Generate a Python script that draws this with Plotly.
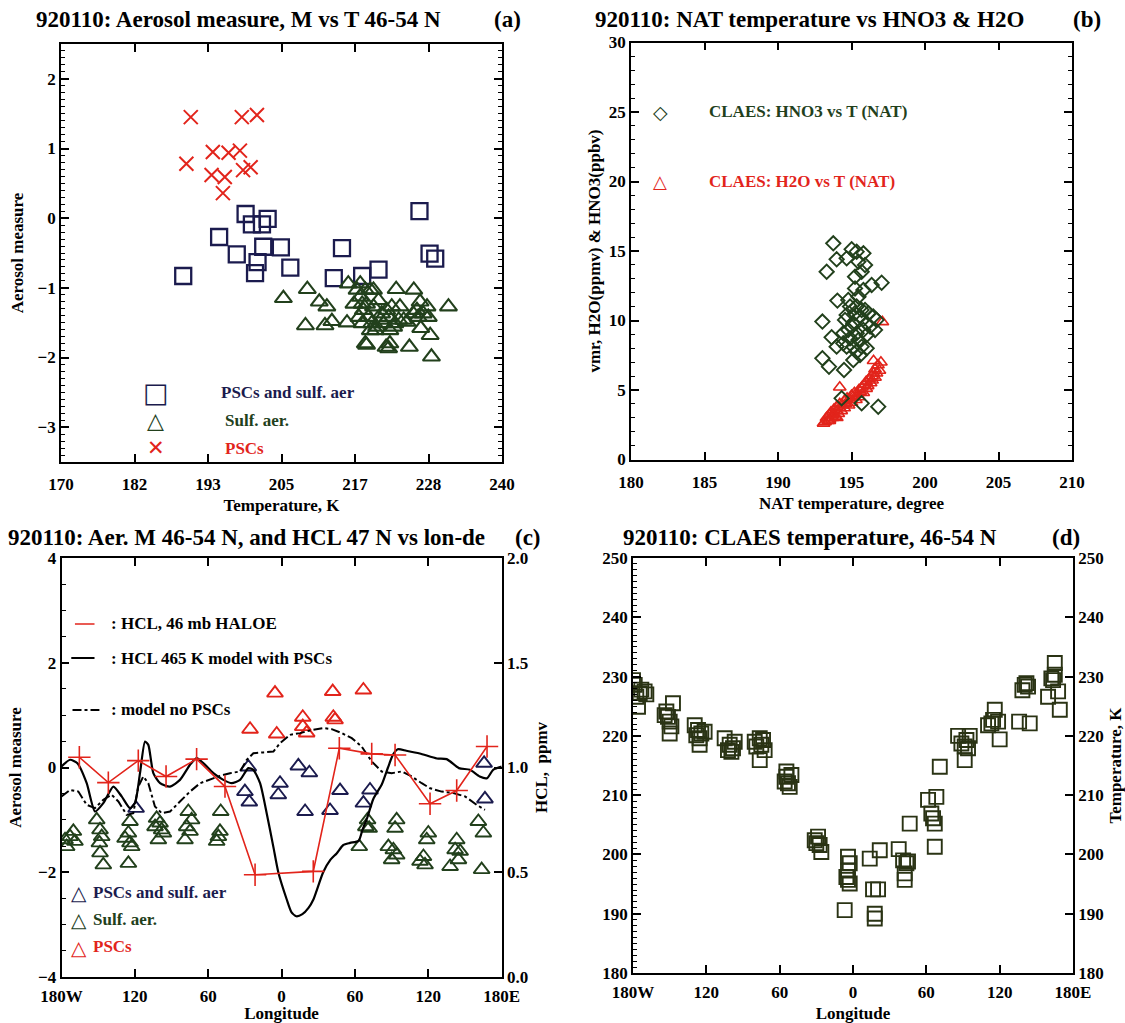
import numpy as np
import plotly.graph_objects as go

W, H = 1125, 1023
FONT = "Liberation Serif"
RED = "#e2241b"
NAVY = "#1b1b4e"
GREEN = "#22401c"
OLIVE = "#2a3314"

# ---------------- Panel (a): aerosol measure vs temperature ----------------
psc_T = [190.6, 198.7, 201.1, 194.1, 196.6, 198.4, 189.9, 193.9, 196.0, 198.9, 200.1, 195.7]
psc_M = [1.45, 1.45, 1.48, 0.95, 0.94, 0.97, 0.78, 0.62, 0.59, 0.69, 0.73, 0.36]

mix_T = [189.4, 195.1, 197.9, 199.3, 200.3, 201.9, 202.8, 202.1, 201.2, 200.8,
         204.9, 206.4, 214.6, 213.3, 217.8, 220.4, 226.9, 228.5, 229.4]
mix_M = [-0.83, -0.27, -0.52, 0.06, -0.09, -0.09, -0.01, -0.41, -0.63, -0.79,
         -0.42, -0.71, -0.43, -0.86, -0.83, -0.74, 0.10, -0.51, -0.58]

sulf_T = [205.3, 209.1, 208.8, 211.0, 212.2, 211.9, 213.0, 215.4, 215.6, 217.0,
          217.5, 217.8, 218.0, 218.3, 218.5, 218.8, 219.1, 219.3, 219.6, 219.9,
          220.4, 220.7, 220.9, 221.2, 221.7, 222.0, 222.2, 222.5, 223.0, 223.2,
          223.8, 224.4, 224.9, 225.3, 226.0, 226.5, 226.7, 227.0, 227.1, 227.5,
          228.1, 228.3, 228.6, 228.8, 231.5, 218.3, 218.5, 221.6, 222.0, 222.2,
          216.5, 217.3, 217.8, 219.1, 220.1, 222.8, 223.6, 225.9, 219.6, 217.5]
sulf_M = [-1.15, -1.02, -1.54, -1.20, -1.27, -1.54, -1.48, -1.50, -0.94, -1.03,
          -1.13, -1.23, -1.32, -1.03, -1.23, -1.42, -1.03, -1.51, -1.27, -1.61,
          -1.18, -1.46, -1.37, -1.51, -1.32, -1.42, -1.61, -1.27, -1.51, -1.02,
          -1.27, -1.46, -1.49, -1.85, -1.03, -1.32, -1.42, -1.20, -1.58, -1.37,
          -1.27, -1.42, -1.68, -1.99, -1.27, -1.80, -1.82, -1.85, -1.87, -1.80,
          -1.23, -1.42, -1.51, -1.61, -1.56, -1.56, -1.46, -1.37, -1.03, -0.94]

a_tickvals = list(np.linspace(170, 240, 7))
a_ticktext = ["170", "182", "193", "205", "217", "228", "240"]

# ---------------- Panel (b): NAT temperature vs HNO3 & H2O ----------------
hno3_T = [193.76, 193.31, 193.99, 194.67, 195.01, 195.35, 195.81, 195.47, 195.92, 195.69,
          195.24, 196.37, 197.05, 194.04, 195.24, 195.81, 194.90, 195.35, 195.92, 194.67,
          195.58, 196.48, 195.12, 196.03, 196.71, 193.02, 196.60, 193.65, 194.44, 194.90,
          195.35, 196.03, 193.99, 194.67, 195.35, 196.03, 193.02, 193.47, 194.49, 195.58,
          195.12, 194.33, 195.69, 196.82, 194.56, 195.01, 195.24, 195.69, 194.78, 195.47,
          195.81, 194.44, 195.12, 195.69, 196.26, 194.78, 195.47, 196.15]
hno3_v = [15.55, 13.51, 14.40, 14.47, 15.12, 14.95, 14.83, 14.23, 13.99, 13.51,
          13.15, 12.55, 12.72, 11.43, 12.31, 12.19, 11.00, 11.00, 10.76, 10.40,
          10.28, 10.28, 9.80, 9.80, 10.04, 9.92, 9.32, 8.79, 9.08, 8.72,
          9.08, 8.96, 8.12, 8.12, 7.76, 8.00, 7.28, 6.68, 6.44, 7.52,
          7.16, 4.40, 4.04, 3.80, 10.04, 9.56, 10.52, 10.76, 9.32, 8.60,
          9.32, 8.36, 8.12, 8.12, 9.56, 11.47, 11.71, 10.52]

h2o_T = [193.1, 193.2, 193.3, 193.4, 193.5, 193.5, 193.6, 193.7, 193.8, 193.8,
         193.9, 194.0, 194.0, 194.1, 194.2, 194.2, 194.3, 194.4, 194.5, 194.5,
         194.6, 194.7, 194.8, 194.9, 195.0, 195.0, 195.1, 195.2, 195.3, 195.4,
         195.5, 195.5, 195.6, 195.7, 195.8, 195.9, 196.0, 196.0, 196.1, 196.2,
         196.3, 196.4, 196.4, 196.5, 196.6, 196.6, 196.7, 196.8, 196.9, 197.0,
         196.5, 197.1, 194.2, 193.5, 193.7, 194.0]
h2o_v = [2.6, 2.7, 3.0, 2.8, 3.2, 2.9, 3.4, 3.0, 3.3, 3.6,
         3.1, 3.5, 3.8, 3.3, 3.7, 4.0, 3.5, 3.9, 4.2, 3.7,
         4.0, 4.4, 3.9, 4.3, 4.6, 4.1, 4.5, 4.8, 4.3, 4.7,
         5.0, 4.5, 4.9, 5.2, 4.8, 5.4, 5.1, 5.6, 5.3, 5.8,
         5.5, 6.0, 5.7, 6.2, 5.9, 6.5, 6.2, 6.8, 6.4, 7.0,
         7.1, 9.9, 5.2, 2.8, 3.2, 3.0]

# ---------------- Panel (c): aerosol measure and HCl vs longitude ----------------
hcl_lon = [-165.4, -141.7, -117.2, -94.5, -69.5, -46.3, -21.7, 25.9, 47.2, 73.7, 92.8, 121.4, 143.2, 168.0]
hcl_ppmv = [1.049, 0.928, 1.033, 0.957, 1.040, 0.909, 0.488, 0.504, 1.092, 1.065, 1.060, 0.827, 0.890, 1.100]

mod_lon = [-180, -173, -167, -159.4, -152.6, -145.8, -137.6, -130.8, -124, -119.9,
           -115.8, -111.7, -109, -104.9, -99.4, -91.2, -83.1, -74.9, -69.5, -64,
           -55.8, -47.6, -40.8, -34, -27.2, -23.1, -17.6, -12.2, -6.7, -2.7,
           4.2, 8, 12, 17, 22, 26, 34, 40, 45, 50.5,
           56, 63, 66, 70, 75, 82, 87, 91, 95, 102,
           113, 127, 135, 145, 154, 162, 168, 173, 180]
mod_ppmv = [1.005, 1.037, 1.02, 0.925, 0.79, 0.83, 0.909, 0.862, 0.806, 0.83,
            0.973, 1.124, 1.108, 0.973, 0.925, 0.909, 0.941, 1.013, 1.045, 1.021,
            0.973, 0.941, 0.925, 0.941, 0.997, 0.989, 0.925, 0.782, 0.62, 0.50,
            0.37, 0.31, 0.29, 0.30, 0.33, 0.37, 0.50, 0.56, 0.59, 0.63,
            0.64, 0.65, 0.70, 0.76, 0.85, 0.92, 1.00, 1.06, 1.087, 1.08,
            1.067, 1.043, 1.040, 0.997, 0.989, 0.957, 0.949, 0.989, 1.005]

nopsc_lon = [-180, -173, -166.2, -159.4, -152.6, -145.8, -139.0, -133.5, -126.7, -121.3,
             -117.2, -113.1, -109.0, -103.6, -98.1, -91.2, -83.1, -74.9, -66.7, -58.5,
             -50.4, -42.2, -34.0, -28.5, -23.1, -14.9, -6.7, -1.3, 6.9, 15.1,
             23.3, 34.2, 41.0, 49.2, 57.4, 65.5, 73.7, 81.8, 90.0, 98.2,
             106.4, 114.6, 121.4, 130.9, 140.4, 150.0, 159.5, 166.3]
nopsc_ppmv = [0.862, 0.893, 0.885, 0.822, 0.806, 0.846, 0.870, 0.838, 0.774, 0.782,
              0.909, 0.957, 0.925, 0.814, 0.782, 0.790, 0.838, 0.885, 0.925, 0.944,
              0.960, 0.973, 0.981, 1.037, 1.068, 1.072, 1.076, 1.116, 1.156, 1.164,
              1.177, 1.188, 1.183, 1.164, 1.140, 1.100, 1.029, 0.981, 0.973, 0.981,
              0.957, 0.925, 0.901, 0.885, 0.878, 0.862, 0.822, 0.798]

c_psc_lon = [-25.8, -4.0, -5.4, 17.3, 17.3, 20.5, 42.3, 41.8, 43.7, 66.9]
c_psc_M = [0.73, 0.64, 1.42, 0.96, 0.78, 0.66, 0.96, 1.45, 0.91, 1.48]

c_mix_lon = [-27.2, -30.0, -26.4, -1.3, -2.7, 13.7, 22.7, 19.2, 39.6, 47.8, 72.3, 66.9, 165.6, 166.3, -119.0]
c_mix_M = [0.01, -0.46, -0.66, -0.30, -0.52, 0.03, -0.10, -0.84, -0.82, -0.44, -0.43, -0.68, 0.08, -0.60, -0.78]

c_sulf_lon = [-177.1, -173.0, -170.3, -175.8, -169.0,
              -151.2, -148.5, -147.1, -149.0, -148.5, -145.8,
              -124.0, -125.3, -128.0, -124.0, -122.6, -125.3,
              -102.2, -99.4, -103.5, -98.1, -100.8, -96.7,
              -76.3, -73.6, -77.6, -79.0, -74.9,
              -49.8, -50.4, -53.1, -51.7,
              63.5, 70.3, 71.6, 68.9,
              94.1, 92.8, 87.3, 91.4, 94.1, 90.0,
              120.0, 118.7, 116.0, 113.2, 117.3,
              143.2, 141.9, 146.0, 137.8, 144.6,
              160.9, 165.0, 163.6]
c_sulf_M = [-1.38, -1.32, -1.22, -1.51, -1.41,
            -1.00, -1.19, -1.32, -1.44, -1.63, -1.86,
            -1.03, -1.25, -1.35, -1.44, -1.51, -1.83,
            -0.97, -1.06, -1.13, -1.19, -1.38, -1.25,
            -0.84, -1.00, -1.13, -1.38, -1.22,
            -0.84, -1.22, -1.41, -1.32,
            -1.51, -1.00, -1.16, -1.13,
            -1.00, -1.16, -1.51, -1.57, -1.67, -1.76,
            -1.25, -1.38, -1.70, -1.79, -1.86,
            -1.38, -1.57, -1.60, -1.89, -1.76,
            -1.03, -1.25, -1.95]

lon_tickvals = [-180, -120, -60, 0, 60, 120, 180]
lon_ticktext = ["180W", "120", "60", "0", "60", "120", "180E"]

# ---------------- Panel (d): CLAES temperature vs longitude ----------------
d_lon = [-180, -178.6, -174.5, -170.5, -175.9, -177.3, -173.2, -169.1,
         -152.7, -151.4, -150.0, -148.6, -150.0, -147.3, -154.1,
         -129.5, -126.8, -124.1, -125.5, -121.4, -125.5, -128.2,
         -105.0, -100.9, -99.5, -96.8, -102.3, -98.2,
         -80.4, -76.3, -73.6, -72.3, -76.3, -79.1, -75.0,
         -55.9, -54.5, -53.2, -51.8, -50.4, -54.5,
         -31.3, -28.6, -27.3, -25.9, -30.0,
         -6.8, -4.1, -2.7, -4.1, -5.4, -2.7, -4.1,
         13.7, 16.4, 20.5, 17.8, 17.8, 21.9,
         37.4, 41.0, 43.7, 42.3, 42.3, 45.0, 46.4,
         61.4, 64.1, 65.5, 66.9, 68.2, 66.9, 71.0,
         86.0, 88.7, 91.4, 92.8, 95.5, 91.4, 94.1,
         110.5, 114.6, 116.0, 118.7, 120.0, 113.2,
         135.9, 138.6, 141.9, 143.2, 144.6, 140.5,
         159.6, 162.3, 165.1, 165.1, 167.8, 169.2, 163.7]
d_T = [229.4, 228.6, 227.2, 227.5, 224.9, 226.6, 227.8, 227.0,
       224.1, 223.2, 222.4, 221.6, 220.4, 225.5, 223.5,
       221.8, 221.0, 220.4, 219.6, 220.7, 218.5, 220.1,
       219.6, 218.5, 217.3, 219.0, 217.6, 217.9,
       219.0, 219.6, 219.3, 217.6, 215.9, 218.2, 218.5,
       212.3, 213.1, 212.0, 211.4, 213.4, 214.0,
       202.4, 203.0, 201.6, 200.4, 201.9,
       190.6, 199.6, 198.5, 197.3, 196.2, 195.1, 195.7,
       199.3, 194.1, 194.1, 190.0, 189.2, 200.7,
       200.9, 199.0, 198.5, 196.8, 195.7, 198.8, 205.2,
       209.2, 206.9, 206.1, 205.2, 209.7, 201.3, 214.8,
       220.0, 218.7, 218.2, 219.3, 220.0, 215.9, 217.9,
       221.8, 222.7, 224.4, 222.4, 219.4, 222.1,
       222.4, 227.7, 228.9, 228.3, 222.1, 228.6,
       226.6, 229.7, 232.3, 230.3, 227.5, 224.4, 229.4]

# ---------------------------------------------------------------------------
fig = go.Figure()

def mk(symbol, size, color, width=2.0):
    return dict(symbol=symbol, size=size, color=color, line=dict(color=color, width=width))

# panel a
fig.add_trace(go.Scatter(x=mix_T, y=mix_M, mode="markers", marker=mk("square-open", 16, NAVY, 2.3),
                         xaxis="x", yaxis="y", name="PSCs and sulf. aer", showlegend=False))
fig.add_trace(go.Scatter(x=sulf_T, y=sulf_M, mode="markers", marker=mk("triangle-up-open", 15, GREEN, 2.1),
                         xaxis="x", yaxis="y", name="Sulf. aer.", showlegend=False))
fig.add_trace(go.Scatter(x=psc_T, y=psc_M, mode="markers", marker=mk("x-thin-open", 14, RED, 2.0),
                         xaxis="x", yaxis="y", name="PSCs", showlegend=False))
# panel b
fig.add_trace(go.Scatter(x=h2o_T, y=h2o_v, mode="markers", marker=mk("triangle-up-open", 11, RED, 1.6),
                         xaxis="x2", yaxis="y2", name="CLAES: H2O vs T (NAT)", showlegend=False))
fig.add_trace(go.Scatter(x=hno3_T, y=hno3_v, mode="markers", marker=mk("diamond-open", 11, GREEN, 1.9),
                         xaxis="x2", yaxis="y2", name="CLAES: HNO3 vs T (NAT)", showlegend=False))
# panel c
fig.add_trace(go.Scatter(x=c_sulf_lon, y=c_sulf_M, mode="markers", marker=mk("triangle-up-open", 14, GREEN, 1.9),
                         xaxis="x3", yaxis="y3", name="Sulf. aer.", showlegend=False))
fig.add_trace(go.Scatter(x=c_mix_lon, y=c_mix_M, mode="markers", marker=mk("triangle-up-open", 14, NAVY, 1.9),
                         xaxis="x3", yaxis="y3", name="PSCs and sulf. aer", showlegend=False))
fig.add_trace(go.Scatter(x=c_psc_lon, y=c_psc_M, mode="markers", marker=mk("triangle-up-open", 14, RED, 1.9),
                         xaxis="x3", yaxis="y3", name="PSCs", showlegend=False))
fig.add_trace(go.Scatter(x=nopsc_lon, y=nopsc_ppmv, mode="lines", line=dict(color="black", width=2, dash="dashdot"),
                         xaxis="x3", yaxis="y5", name="model no PSCs", showlegend=False))
fig.add_trace(go.Scatter(x=mod_lon, y=mod_ppmv, mode="lines", line=dict(color="black", width=2.2, shape="spline", smoothing=0.6),
                         xaxis="x3", yaxis="y5", name="HCL 465 K model with PSCs", showlegend=False))
fig.add_trace(go.Scatter(x=hcl_lon, y=hcl_ppmv, mode="lines+markers", line=dict(color=RED, width=1.6),
                         marker=mk("cross-thin-open", 16, RED, 1.6),
                         xaxis="x3", yaxis="y5", name="HCL, 46 mb HALOE", showlegend=False))
# panel d
fig.add_trace(go.Scatter(x=d_lon, y=d_T, mode="markers", marker=mk("square-open", 14, OLIVE, 1.9),
                         xaxis="x4", yaxis="y4", name="CLAES temperature", showlegend=False))
fig.add_trace(go.Scatter(x=d_lon, y=d_T, mode="markers", marker=dict(opacity=0),
                         xaxis="x4", yaxis="y6", hoverinfo="skip", showlegend=False))

# ---------------------------------------------------------------------------
tickfont = dict(family=FONT, size=17, color="black", weight="bold")
titlefont = dict(family=FONT, size=17, color="black", weight="bold")

def ax(**kw):
    base = dict(showline=True, linecolor="black", linewidth=1.6, ticks="inside", ticklen=8,
                tickwidth=1.5, tickcolor="black", showgrid=False, zeroline=False,
                tickfont=tickfont, automargin=False)
    base.update(kw)
    return base

def minor(d, ln=4):
    return dict(dtick=d, ticks="inside", ticklen=ln, tickwidth=1.2, tickcolor="black", showgrid=False)

def dx(a, b):
    return [a / W, b / W]

def dy(top, bottom):
    return [1 - bottom / H, 1 - top / H]

layout = dict(
    width=W, height=H, margin=dict(l=0, r=0, t=0, b=0, autoexpand=False),
    paper_bgcolor="white", plot_bgcolor="white", showlegend=False,
    xaxis=ax(domain=dx(61, 502), range=[170, 240], tickvals=a_tickvals, ticktext=a_ticktext,
             anchor="y", mirror="ticks", ticklabelstandoff=6,
             title=dict(text="Temperature, K", font=titlefont, standoff=6)),
    yaxis=ax(domain=dy(44, 462), range=[-3.5, 2.5], dtick=1, tick0=0, anchor="x", mirror="ticks",
             minor=minor(0.1),
             title=dict(text="Aerosol measure", font=titlefont, standoff=10)),
    xaxis2=ax(domain=dx(631, 1072), range=[180, 210], dtick=5, anchor="y2", mirror="ticks",
              ticklabelstandoff=6,
              title=dict(text="NAT temperature, degree", font=titlefont, standoff=6)),
    yaxis2=ax(domain=dy(42.5, 459.5), range=[0, 30], dtick=5, anchor="x2", mirror="ticks",
              minor=minor(1),
              title=dict(text="vmr, H2O(ppmv) &amp; HNO3(ppbv)", font=titlefont, standoff=4)),
    xaxis3=ax(domain=dx(61.5, 501.7), range=[-180, 180], tickvals=lon_tickvals, ticktext=lon_ticktext,
              anchor="y3", mirror="ticks", ticklabelstandoff=3,
              title=dict(text="Longitude", font=titlefont, standoff=7)),
    yaxis3=ax(domain=dy(558, 977), range=[-4, 4], dtick=2, anchor="x3", minor=minor(0.5, 5),
              title=dict(text="Aerosol measure", font=titlefont, standoff=12)),
    yaxis5=ax(range=[0, 2], dtick=0.5, tickformat=".1f", overlaying="y3", side="right", anchor="x3",
              title=dict(text="HCL,  ppmv", font=titlefont, standoff=8)),
    xaxis4=ax(domain=dx(633, 1073), range=[-180, 180], tickvals=lon_tickvals, ticktext=lon_ticktext,
              anchor="y4", mirror="ticks", ticklabelstandoff=3,
              title=dict(text="Longitude", font=titlefont, standoff=7)),
    yaxis4=ax(domain=dy(558, 973), range=[180, 250], dtick=10, anchor="x4", minor=minor(1)),
    yaxis6=ax(range=[180, 250], dtick=10, overlaying="y4", side="right", anchor="x4",
              title=dict(text="Temperature, K", font=titlefont, standoff=8)),
)
fig.update_layout(**layout)

# ---------------------------------------------------------------------------
ann = []
def title(text, x, y, size=23):
    ann.append(dict(text=text, x=x / W, y=1 - y / H, xref="paper", yref="paper", xanchor="left",
                    yanchor="middle", showarrow=False,
                    font=dict(family=FONT, size=size, color="black", weight="bold")))

title("920110: Aerosol measure, M vs T 46-54 N", 34, 20)
title("(a)", 492, 20)
title("920110: NAT temperature vs HNO3 &amp; H2O", 593, 20)
title("(b)", 1071, 20)
title("920110: Aer. M 46-54 N, and HCL 47 N vs lon-de", 6, 537)
title("(c)", 513, 537)
title("920110: CLAES temperature, 46-54 N", 621, 537)
title("(d)", 1050, 537)

def key(text, x, y, xr, yr, color, size=17, fam=FONT, anchor="left"):
    ann.append(dict(text=text, x=x, y=y, xref=xr, yref=yr, xanchor=anchor, yanchor="middle",
                    showarrow=False, font=dict(family=fam, size=size, color=color, weight="bold")))

GLY = "DejaVu Sans"
# legend (a)
key("\u25a1", 185.0, -2.50, "x", "y", NAVY, 27, GLY, "center")
key("\u25b3", 185.0, -2.90, "x", "y", GREEN, 22, GLY, "center")
key("\u2715", 185.0, -3.30, "x", "y", RED, 21, GLY, "center")
key("PSCs and sulf. aer", 195.0, -2.50, "x", "y", NAVY)
key("Sulf. aer.", 195.7, -2.90, "x", "y", GREEN)
key("PSCs", 195.7, -3.30, "x", "y", RED)
# legend (b)
key("\u25c7", 182.0, 25, "x2", "y2", GREEN, 19, GLY, "center")
key("\u25b3", 182.0, 20, "x2", "y2", RED, 18, GLY, "center")
key("CLAES: HNO3 vs T (NAT)", 185.2, 25, "x2", "y2", GREEN)
key("CLAES: H2O vs T (NAT)", 185.2, 20, "x2", "y2", RED)
# legend (c) lines
key(": HCL, 46 mb HALOE", -141, 2.74, "x3", "y3", "black")
key(": HCL 465 K model with PSCs", -141, 2.09, "x3", "y3", "black")
key(": model no PSCs", -141, 1.10, "x3", "y3", "black")
# legend (c) symbols
key("\u25b3", -166, -2.40, "x3", "y3", NAVY, 20, GLY, "center")
key("\u25b3", -166, -2.92, "x3", "y3", GREEN, 20, GLY, "center")
key("\u25b3", -166, -3.44, "x3", "y3", RED, 20, GLY, "center")
key("PSCs and sulf. aer", -156, -2.38, "x3", "y3", NAVY)
key("Sulf. aer.", -156, -2.90, "x3", "y3", GREEN)
key("PSCs", -156, -3.42, "x3", "y3", RED)
fig.update_layout(annotations=ann)

shapes = [
    dict(type="line", xref="x3", yref="y3", x0=-169, x1=-153, y0=2.74, y1=2.74, line=dict(color=RED, width=1.6)),
    dict(type="line", xref="x3", yref="y3", x0=-172, x1=-153, y0=2.09, y1=2.09, line=dict(color="black", width=2)),
    dict(type="line", xref="x3", yref="y3", x0=-171, x1=-149, y0=1.10, y1=1.10, line=dict(color="black", width=2, dash="dashdot")),
]
fig.update_layout(shapes=shapes)

fig.write_html("out.html")
